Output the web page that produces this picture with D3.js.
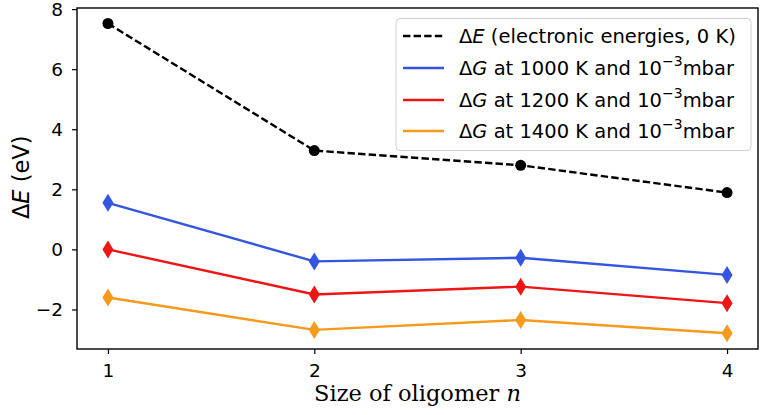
<!DOCTYPE html>
<html><head><meta charset="utf-8">
<script src="https://cdn.jsdelivr.net/npm/d3@7"></script>
<style>body{margin:0;background:#fff}svg{display:block}</style>
</head><body>
<script>
const sizes = [1, 2, 3, 4];
const deltaE = [7.52, 3.29, 2.80, 1.89];
const g1000 = [1.55, -0.40, -0.28, -0.85];
const g1200 = [0.00, -1.50, -1.24, -1.79];
const g1400 = [-1.60, -2.68, -2.35, -2.79];
const yTicks = [-2, 0, 2, 4, 6, 8];
const xTicks = [1, 2, 3, 4];
const series = [
  {name: "dE", values: deltaE, color: "#000000", dash: "7.4,3.2", marker: "circle"},
  {name: "1000", values: g1000, color: "#3355e0", dash: null, marker: "diamond"},
  {name: "1200", values: g1200, color: "#ee1515", dash: null, marker: "diamond"},
  {name: "1400", values: g1400, color: "#f59a1c", dash: null, marker: "diamond"}
];
const W = 761, H = 415;
const m = {left: 77, right: 3, top: 8, bottom: 66};
const svg = d3.select("body").append("svg").attr("width", W).attr("height", H);
const x = d3.scaleLinear().domain([0.85, 4.15]).range([m.left, W - m.right]);
const y = d3.scaleLinear().domain([-3.316, 8.036]).range([H - m.bottom, m.top]);
const font = "'DejaVu Sans', sans-serif";

const line = d3.line().x((d, i) => x(sizes[i])).y(d => y(d));
series.forEach(s => {
  svg.append("path").attr("d", line(s.values)).attr("fill", "none")
    .attr("stroke", s.color).attr("stroke-width", 2.4)
    .attr("stroke-dasharray", s.dash);
  s.values.forEach((v, i) => {
    const cx = x(sizes[i]), cy = y(v);
    if (s.marker === "circle") {
      svg.append("circle").attr("cx", cx).attr("cy", cy).attr("r", 5.5).attr("fill", s.color);
    } else {
      svg.append("path").attr("d", `M${cx},${cy-9}L${cx+5.5},${cy}L${cx},${cy+9}L${cx-5.5},${cy}Z`).attr("fill", s.color);
    }
  });
});

// axes
const yAx = svg.append("g").attr("transform", `translate(${m.left},0)`)
  .call(d3.axisLeft(y).tickValues(yTicks).tickSize(5).tickPadding(9).tickFormat(d => d < 0 ? "\u2212" + Math.abs(d) : d));
const xAx = svg.append("g").attr("transform", `translate(0,${H - m.bottom})`)
  .call(d3.axisBottom(x).tickValues(xTicks).tickSize(5).tickPadding(10).tickFormat(d3.format("d")));
[yAx, xAx].forEach(a => {
  a.select(".domain").remove();
  a.selectAll(".tick line").attr("stroke", "#000").attr("stroke-width", 1.2);
  a.selectAll("text").attr("font-family", font).attr("font-size", 18.5).attr("fill", "#000");
});
svg.append("rect").attr("x", m.left).attr("y", m.top).attr("width", W - m.right - m.left)
  .attr("height", H - m.bottom - m.top).attr("fill", "none").attr("stroke", "#000").attr("stroke-width", 1.4);

// labels
svg.append("text").attr("x", x(2.5)).attr("y", 401).attr("text-anchor", "middle")
  .attr("font-family", "'DejaVu Serif', serif").attr("font-size", 22.5).text("Size of oligomer ")
  .append("tspan").attr("font-style", "italic").text("n");
const yl = svg.append("text").attr("transform", `translate(29,${y(2.4)}) rotate(-90)`).attr("text-anchor", "middle")
  .attr("font-family", font).attr("font-size", 22.5);
yl.append("tspan").text("\u0394");
yl.append("tspan").attr("font-style", "italic").text("E");
yl.append("tspan").text(" (eV)");

// legend
const lg = svg.append("g");
lg.append("rect").attr("x", 396).attr("y", 18.5).attr("width", 355).attr("height", 132).attr("rx", 4)
  .attr("fill", "rgba(255,255,255,0.85)").attr("stroke", "#d0d0d0").attr("stroke-width", 1);
const rows = [36, 68, 100, 131];
const temps = ["1000", "1200", "1400"];
series.forEach((s, i) => {
  lg.append("line").attr("x1", 403).attr("x2", 444).attr("y1", rows[i]).attr("y2", rows[i])
    .attr("stroke", s.color).attr("stroke-width", 2.4).attr("stroke-dasharray", s.dash);
  const t = lg.append("text").attr("x", 459).attr("y", rows[i] + 7).attr("font-family", font).attr("font-size", 19.5);
  if (i === 0) {
    t.append("tspan").text("\u0394");
    t.append("tspan").attr("font-style", "italic").text("E");
    t.append("tspan").text(" (electronic energies, 0 K)");
  } else {
    t.append("tspan").text("\u0394");
    t.append("tspan").attr("font-style", "italic").text("G");
    t.append("tspan").text(` at ${temps[i-1]} K and 10`);
    t.append("tspan").attr("font-size", 14).attr("dy", -9).text("\u22123");
    t.append("tspan").attr("dy", 9).text("mbar");
  }
});
</script>
</body></html>
